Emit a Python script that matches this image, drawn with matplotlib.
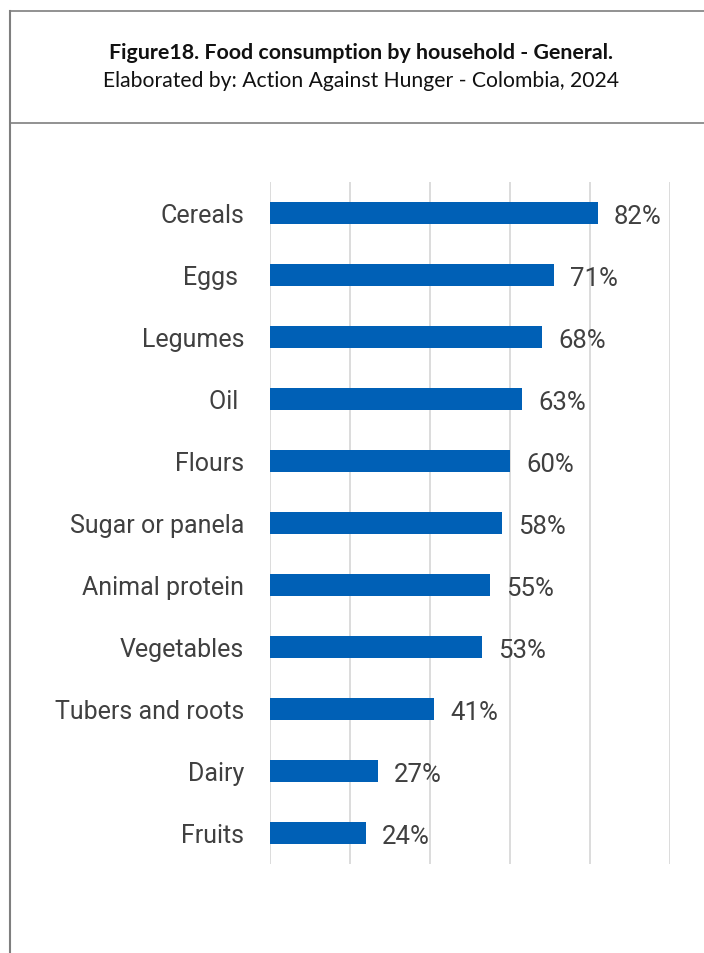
import matplotlib.pyplot as plt
from matplotlib.lines import Line2D

categories = ["Cereals", "Eggs ", "Legumes", "Oil ", "Flours", "Sugar or panela",
              "Animal protein", "Vegetables", "Tubers and roots", "Dairy", "Fruits"]
values = [82, 71, 68, 63, 60, 58, 55, 53, 41, 27, 24]

BAR_COLOR = "#0060B6"
TEXT_COLOR = "#404040"
LABEL_FONT = ["Roboto", "DejaVu Sans"]

W, H = 704, 954
fig = plt.figure(figsize=(W / 100, H / 100), dpi=100)

# header box
border = "#7f7f7f"
fig.add_artist(Line2D([10 / W, 1], [1 - 12 / H, 1 - 12 / H], color=border, lw=1.2))
fig.add_artist(Line2D([10 / W, 1], [1 - 124 / H, 1 - 124 / H], color=border, lw=1.2))
fig.add_artist(Line2D([10 / W, 10 / W], [0, 1 - 12 / H], color=border, lw=1.5))

fig.text(361 / W, 1 - 53 / H, "Figure18. Food consumption by household - General.",
         ha="center", va="center", fontsize=15.4, fontweight="bold",
         family=["Lato", "DejaVu Sans"], color="#111111")
fig.text(361 / W, 1 - 81 / H, "Elaborated by: Action Against Hunger - Colombia, 2024",
         ha="center", va="center", fontsize=15.2,
         family=["Lato", "DejaVu Sans"], color="#111111")

ax = fig.add_axes([270 / W, 89 / H, 400 / W, 682 / H])
y = range(len(categories))
ax.barh(y, values, height=0.355, color=BAR_COLOR, zorder=3)
ax.set_xlim(0, 100)
ax.set_ylim(len(categories) - 0.5, -0.5)
ax.set_xticks([0, 20, 40, 60, 80, 100])
ax.xaxis.grid(True, color="#d9d9d9", lw=1.3, zorder=0)
ax.tick_params(axis="x", length=0, labelbottom=False)
ax.tick_params(axis="y", length=0, pad=18.5)
ax.set_yticks(list(y))
ax.set_yticklabels(categories, fontsize=18, color=TEXT_COLOR, family=LABEL_FONT,
                   va="center_baseline")
for s in ax.spines.values():
    s.set_visible(False)

for i, v in enumerate(values):
    ax.text(v + 4, i + 0.05, f"{v}%", va="center", ha="left", fontsize=18.5,
            color=TEXT_COLOR, family=LABEL_FONT)

fig.savefig("out.png", dpi=100)
